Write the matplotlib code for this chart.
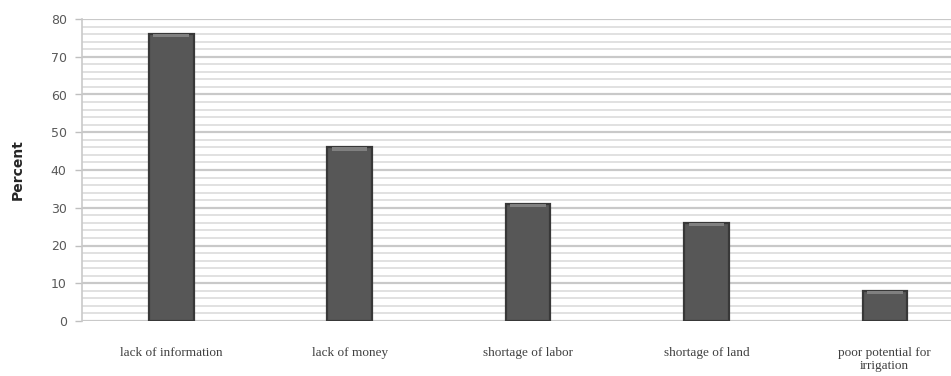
import numpy as np
import matplotlib.pyplot as plt
from matplotlib.ticker import MultipleLocator

# constraints reported by respondents (percent)
categories = ["lack of information", "lack of money", "shortage of labor",
              "shortage of land", "poor potential for\nirrigation"]
percent = [76, 46, 31, 26, 8]
yticks = [0, 10, 20, 30, 40, 50, 60, 70, 80]

fig = plt.figure(figsize=(9.51, 3.76), dpi=100)
# right edge of the axes runs past the figure so the last column is clipped
ax = fig.add_axes([82 / 951, 55 / 376, 892 / 951, 302 / 376])

x = np.arange(len(categories))
w = 0.25

# gridlines: major every 10, minor every 2
ax.set_ylim(0, 80)
ax.set_xlim(-0.5, len(categories) - 0.5)
ax.yaxis.set_major_locator(MultipleLocator(10))
ax.yaxis.set_minor_locator(MultipleLocator(2))
ax.grid(True, which="major", axis="y", color="#c9c9c9", linewidth=1.6, zorder=0)
ax.grid(True, which="minor", axis="y", color="#dedede", linewidth=1.3, zorder=0)
ax.set_axisbelow(True)

# bars with darker rim and a light bevel at the top
ax.bar(x, percent, width=w, color="#575757", edgecolor="#383838", linewidth=1.6, zorder=3)
ax.bar(x, [0.9] * len(percent), bottom=np.array(percent) - 0.9, width=w * 0.8,
       color="#808080", linewidth=0, zorder=4)

ax.set_yticks(yticks)
ax.set_yticklabels([str(t) for t in yticks], fontsize=9, color="#595959",
                   family="DejaVu Sans")
ax.tick_params(axis="y", which="major", length=5, color="#bfbfbf", width=1, pad=6)
ax.tick_params(axis="y", which="minor", length=0)
ax.set_xticks(x)
ax.set_xticklabels(categories, fontsize=9.5, color="#404040", family="Liberation Serif",
                   linespacing=1.1)
ax.tick_params(axis="x", length=0, pad=19)

for s in ["top", "right", "bottom"]:
    ax.spines[s].set_visible(False)
ax.spines["left"].set_color("#c9c9c9")
ax.spines["left"].set_linewidth(1.2)

ax.set_ylabel("Percent", fontsize=10, fontweight="bold", color="#262626", labelpad=19)

fig.savefig("out.png", dpi=100)
